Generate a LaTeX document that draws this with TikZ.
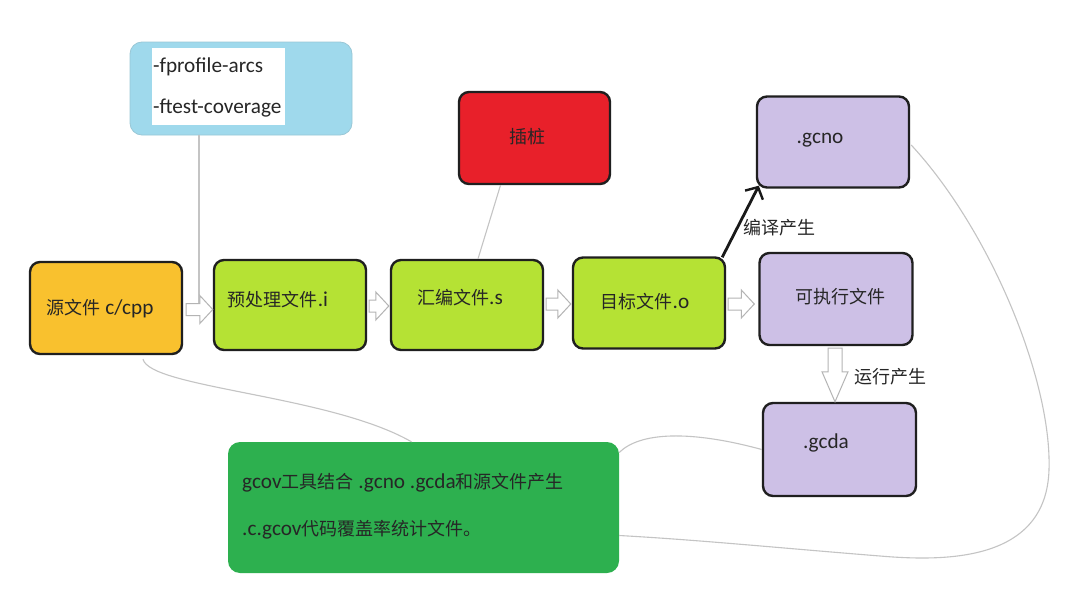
\documentclass[tikz,border=0pt]{standalone}
\usepackage{fontspec}
\setmainfont{Carlito}[Scale=1.18]
\newfontfamily\cjk{Noto Sans CJK SC}
\usetikzlibrary{calc,arrows.meta}
\definecolor{cyellow}{HTML}{F9C12E}
\definecolor{clime}{HTML}{B5E234}
\definecolor{cred}{HTML}{E8202A}
\definecolor{clav}{HTML}{CDC0E6}
\definecolor{cgreen}{HTML}{2DB04F}
\definecolor{cblue}{HTML}{9FD9EC}
\definecolor{ctext}{HTML}{262626}
\definecolor{cline}{HTML}{C4C4C4}
\definecolor{carrow}{HTML}{B4B4B4}
% hollow block arrow to the right: #1 start point, #2 point giving the tip's x
\newcommand{\rharrow}[2]{\draw[harrowst] let \p1=#1, \p2=#2 in
  (\x1,\y1+6pt) -- (\x2-13pt,\y1+6pt) -- (\x2-13pt,\y1+14pt) -- (\x2,\y1)
  -- (\x2-13pt,\y1-14pt) -- (\x2-13pt,\y1-6pt) -- (\x1,\y1-6pt) -- cycle;}
% hollow block arrow downwards: #1 start point, #2 point giving the tip's y
\newcommand{\dharrow}[2]{\draw[harrowst] let \p1=#1, \p2=#2 in
  (\x1-7pt,\y1) -- (\x1-7pt,\y2+30pt) -- (\x1-13pt,\y2+30pt) -- (\x1,\y2)
  -- (\x1+13pt,\y2+30pt) -- (\x1+7pt,\y2+30pt) -- (\x1+7pt,\y1) -- cycle;}
\begin{document}
\begin{tikzpicture}[x=1pt,y=-1pt,
  box/.style={draw=black!88, line width=2.4pt, rounded corners=10pt, inner sep=0pt},
  flat/.style={rounded corners=12pt, inner sep=0pt},
  txt/.style={text=ctext, inner sep=0pt, font=\fontsize{18}{22}\selectfont},
  harrowst/.style={draw=carrow, fill=white, line width=1pt, line join=miter},
  thin/.style={draw=cline, line width=1.1pt},
  blk/.style={draw=black!90, line width=2.8pt, -{Straight Barb[length=9pt,width=20pt,line width=2.4pt]}}
]
\useasboundingbox (0,0) rectangle (1080,605);
\fill[white] (0,0) rectangle (1080,605);

% boxes
\node[flat, fill=cblue, draw=cblue!80!gray, line width=0.8pt, minimum width=222pt, minimum height=93pt] (blue) at (241,88.5) {};
\node[fill=white, inner sep=0pt, minimum width=133pt, minimum height=77pt] (bluein) at (218.5,86.5) {};
\node[box, fill=cyellow, minimum width=152pt, minimum height=92pt] (src) at (106,308) {};
\node[box, fill=clime, minimum width=152pt, minimum height=90pt] (pre) at (290,305) {};
\node[box, fill=clime, minimum width=152pt, minimum height=90pt] (asm) at (467,305) {};
\node[box, fill=clime, minimum width=152pt, minimum height=91pt] (obj) at (649,303) {};
\node[box, fill=clav, minimum width=153pt, minimum height=92pt] (exe) at (836,299) {};
\node[box, fill=clav, minimum width=152pt, minimum height=91pt] (gcno) at (833,142) {};
\node[box, fill=cred, minimum width=151pt, minimum height=92pt] (stub) at (534.5,138) {};
\node[box, fill=clav, minimum width=153pt, minimum height=93pt] (gcda) at (839.5,449.5) {};
\node[flat, fill=cgreen, minimum width=391pt, minimum height=131pt] (res) at (423.5,507.5) {};

% texts
\node[txt, anchor=base west] (bt1) at (153,72) {-fprofile-arcs};
\node[txt, anchor=base west] (bt2) at (153,113) {-ftest-coverage};
\node[txt] (srct) at (100,309) {{\cjk 源文件} c/cpp};
\node[txt] (pret) at (278,300) {{\cjk 预处理文件}.i};
\node[txt] (asmt) at (460,298) {{\cjk 汇编文件}.s};
\node[txt] (objt) at (645,302) {{\cjk 目标文件}.o};
\node[txt] (exet) at (840,297) {\cjk 可执行文件};
\node[txt] (gcnot) at (820,140) {.gcno};
\node[txt] (stubt) at (527,137) {\cjk 插桩};
\node[txt] (gcdat) at (826,443) {.gcda};
\node[txt, anchor=base west] (rt1) at (242,488) {gcov{\cjk 工具结合} .gcno .gcda{\cjk 和源文件产生}};
\node[txt, anchor=base west] (rt2) at (242,535) {.c.gcov{\cjk 代码覆盖率统计文件。}};
\node[txt] (lb1) at (779,228) {\cjk 编译产生};
\node[txt] (lb2) at (890,377) {\cjk 运行产生};

% thin gray connectors
\coordinate (bluefoot) at (199,303);
\draw[thin] (blue.south -| bluefoot) -- (bluefoot);
\draw[thin] ($(stub.south)+(-34,0)$) -- ($(asm.north)+(11,0)$);
\draw[thin] ($(src.south)+(37,4)$) .. controls (150,388) and (330,395) .. ($(res.north)+(-12,0)$);
\draw[thin] (gcda.west) .. controls (690,430) and (640,432) .. ($(res.east)+(0,-55)$);
\draw[thin] ($(gcno.east)+(1,3)$) .. controls (990,230) and (1052,380) .. (1049,470)
  .. controls (1046,560) and (950,562) .. (880,556)
  .. controls (780,548) and (700,540) .. ($(res.east)+(0,28)$);

% hollow block arrows
\rharrow{($(src.east)+(3,1.5)$)}{(pre.west)}
\rharrow{($(pre.east)+(2,1)$)}{($(asm.west)+(-1,0)$)}
\rharrow{($(asm.east)+(2,-1)$)}{($(obj.west)+(-1,0)$)}
\rharrow{($(obj.east)+(2,1)$)}{($(exe.west)+(-4,0)$)}
\dharrow{($(exe.south)+(-1,2)$)}{(gcda.north)}

% black arrow
\draw[blk] ($(obj.north east)+(-4,1)$) -- ($(gcno.south west)+(3,-3)$);
\end{tikzpicture}
\end{document}
